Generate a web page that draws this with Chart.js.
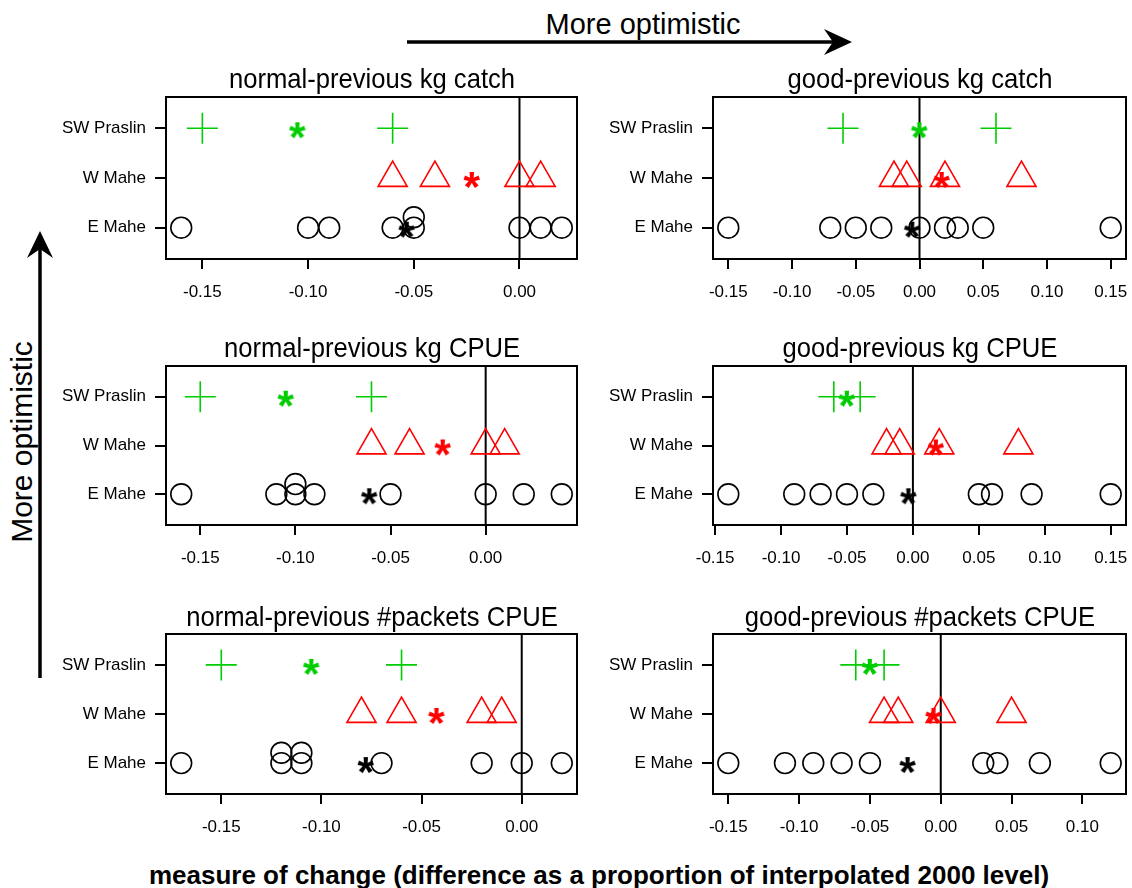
<!DOCTYPE html>
<html>
<head>
<meta charset="utf-8">
<script src="https://cdn.jsdelivr.net/npm/chart.js@4.4.0/dist/chart.umd.min.js"></script>
<style>
  body { margin: 0; background: #fff; font-family: "Liberation Sans", Arial, sans-serif; }
  #page { position: relative; width: 1132px; height: 888px; overflow: hidden; }
  .panel { position: absolute; }
  .txt { position: absolute; white-space: nowrap; color: #000; }
  .title { font-size: 28px; line-height: 28px; transform: translateX(-50%) scaleX(0.915); }
  #topLabel { left: 643px; top: 10px; font-size: 29px; line-height: 29px; transform: translateX(-50%); }
  #sideLabel { left: 22px; top: 442px; font-size: 30px; line-height: 30px; transform: translate(-50%, -50%) rotate(-90deg); }
  #xLabel { left: 599px; top: 862px; font-size: 26px; line-height: 26px; font-weight: bold; transform: translateX(-50%); }
  svg { position: absolute; left: 0; top: 0; }
</style>
</head>
<body>
<div id="page">
  <svg width="1132" height="888">
    <line x1="407" y1="42" x2="836" y2="42" stroke="#000" stroke-width="3.5"/>
    <polygon points="852,42 824,29 833,42 824,55" fill="#000"/>
    <line x1="40" y1="678" x2="40" y2="246" stroke="#000" stroke-width="3.5"/>
    <polygon points="40,231 27,258 40,249 53,258" fill="#000"/>
  </svg>
  <div class="txt" id="topLabel">More optimistic</div>
  <div class="txt" id="sideLabel">More optimistic</div>
  <div class="txt" id="xLabel">measure of change (difference as a proportion of interpolated 2000 level)</div>
</div>
<script>
// Panel titles, in reading order (left to right, top to bottom)
const panelTitles = [
    'normal-previous kg catch', 'good-previous kg catch',
    'normal-previous kg CPUE', 'good-previous kg CPUE',
    'normal-previous #packets CPUE', 'good-previous #packets CPUE'
];

// Row labels, bottom to top
const siteNames = ['E Mahe', 'W Mahe', 'SW Praslin'];

// Values per site for each panel
const swPraslin = [
    [-0.15, -0.06],
    [-0.06, 0.06],
    [-0.15, -0.06],
    [-0.06, -0.04],
    [-0.15, -0.06],
    [-0.06, -0.04]
];
const wMahe = [
    [-0.06, -0.04, 0.00, 0.01],
    [-0.02, -0.01, 0.02, 0.08],
    [-0.06, -0.04, 0.00, 0.01],
    [-0.02, -0.01, 0.02, 0.08],
    [-0.08, -0.06, -0.02, -0.01],
    [-0.04, -0.03, 0.00, 0.05]
];
const eMahe = [
    [-0.16, -0.10, -0.09, -0.06, -0.05, -0.05, 0.00, 0.01, 0.02],
    [-0.15, -0.07, -0.05, -0.03, 0.00, 0.02, 0.03, 0.05, 0.15],
    [-0.16, -0.11, -0.10, -0.10, -0.09, -0.05, 0.00, 0.02, 0.04],
    [-0.14, -0.09, -0.07, -0.05, -0.03, 0.05, 0.06, 0.09, 0.15],
    [-0.17, -0.12, -0.12, -0.11, -0.11, -0.07, -0.02, 0.00, 0.02],
    [-0.15, -0.11, -0.09, -0.07, -0.05, 0.03, 0.04, 0.07, 0.12]
];

// Means (asterisks)
const swMean = [-0.105, 0.000, -0.105, -0.050, -0.105, -0.050];
const wMean = [-0.0225, 0.0175, -0.0225, 0.0175, -0.0425, -0.005];
const eMean = [-0.0533, -0.0056, -0.0611, -0.0033, -0.0778, -0.0233];

// Tick labels on the x axes
const xTicks = [
    [-0.15, -0.10, -0.05, 0.00],
    [-0.15, -0.10, -0.05, 0.00, 0.05, 0.10, 0.15],
    [-0.15, -0.10, -0.05, 0.00],
    [-0.15, -0.10, -0.05, 0.00, 0.05, 0.10, 0.15],
    [-0.15, -0.10, -0.05, 0.00],
    [-0.15, -0.10, -0.05, 0.00, 0.05, 0.10]
];

const GREEN = '#00CD00';
const RED = '#FF0000';
const BLACK = '#000000';
const FONT = '"Liberation Sans", Arial, sans-serif';
const Y_MIN = 0.37, Y_MAX = 3.63;

// page geometry of the plot boxes
const boxTop = [97, 365.7, 634.3];
const boxBottom = [259, 525, 794.5];
const colGeom = [
    { left: 50, width: 535, yWidth: 116, padRight: 8, center: 371.5 },
    { left: 596, width: 536, yWidth: 117, padRight: 6, center: 919.5 }
];

/**
 * Asterisk marker drawn from a bold text glyph
 */
function makeAsterisk(color) {
    const c = document.createElement('canvas');
    c.width = 26;
    c.height = 26;
    const g = c.getContext('2d');
    g.font = 'bold 40px ' + FONT;
    let m = g.measureText('*');
    const w0 = m.actualBoundingBoxLeft + m.actualBoundingBoxRight;
    const size = 40 * 17 / w0;
    g.font = 'bold ' + size + 'px ' + FONT;
    m = g.measureText('*');
    const w = m.actualBoundingBoxLeft + m.actualBoundingBoxRight;
    const h = m.actualBoundingBoxAscent + m.actualBoundingBoxDescent;
    g.fillStyle = color;
    g.fillText('*', 13 - w / 2 + m.actualBoundingBoxLeft, 13 + h / 2 - m.actualBoundingBoxDescent + 2);
    return c;
}

const starGreen = makeAsterisk(GREEN);
const starRed = makeAsterisk(RED);
const starBlack = makeAsterisk(BLACK);

// stack repeated values upward within a row
function stackPoints(vals, row) {
    const seen = {};
    return vals.map(v => {
        const k = seen[v] || 0;
        seen[v] = k + 1;
        return { x: v, y: row + k * 0.21 };
    });
}

const boxPlugin = {
    id: 'plotBox',
    afterDraw(chart) {
        const a = chart.chartArea;
        const ctx = chart.ctx;
        ctx.save();
        ctx.strokeStyle = BLACK;
        ctx.lineWidth = 2;
        ctx.strokeRect(a.left, a.top, a.right - a.left, a.bottom - a.top);
        ctx.restore();
    }
};

function pointSet(data, style, color, radius, width) {
    return {
        data: data,
        pointStyle: style,
        pointRadius: radius,
        pointBorderColor: color,
        pointBackgroundColor: 'rgba(0,0,0,0)',
        pointBorderWidth: width,
        borderColor: color,
        showLine: false
    };
}

function buildPanel(i) {
    const row = Math.floor(i / 2);
    const col = colGeom[i % 2];
    const top = boxTop[row] - 4;
    const height = 4 + (boxBottom[row] - boxTop[row]) + 50;

    const wrap = document.createElement('div');
    wrap.className = 'panel';
    wrap.style.left = col.left + 'px';
    wrap.style.top = top + 'px';
    const canvas = document.createElement('canvas');
    canvas.width = col.width;
    canvas.height = height;
    canvas.style.width = col.width + 'px';
    canvas.style.height = height + 'px';
    wrap.appendChild(canvas);
    document.getElementById('page').appendChild(wrap);

    const title = document.createElement('div');
    title.className = 'txt title';
    title.textContent = panelTitles[i];
    title.style.left = col.center + 'px';
    title.style.top = (boxTop[row] - 31.7) + 'px';
    document.getElementById('page').appendChild(title);

    // R style range: data range widened by 4%
    const all = swPraslin[i].concat(wMahe[i], eMahe[i]);
    const lo = Math.min.apply(null, all);
    const hi = Math.max.apply(null, all);
    const ext = (hi - lo) * 0.04;

    const datasets = [
        pointSet([{ x: swMean[i], y: 3 }], starGreen, GREEN, 8, 0),
        pointSet([{ x: wMean[i], y: 2 }], starRed, RED, 8, 0),
        pointSet([{ x: eMean[i], y: 1 }], starBlack, BLACK, 8, 0),
        pointSet(stackPoints(swPraslin[i], 3), 'cross', GREEN, 15.5, 1.6),
        pointSet(stackPoints(wMahe[i], 2), 'triangle', RED, 16.8, 1.6),
        pointSet(stackPoints(eMahe[i], 1), 'circle', BLACK, 10.4, 1.6),
        {
            data: [{ x: 0, y: Y_MIN }, { x: 0, y: Y_MAX }],
            showLine: true,
            borderColor: BLACK,
            borderWidth: 2,
            pointRadius: 0
        }
    ];

    new Chart(canvas.getContext('2d'), {
        type: 'scatter',
        data: { datasets: datasets },
        options: {
            responsive: false,
            animation: false,
            devicePixelRatio: 1,
            layout: {
                autoPadding: false,
                padding: { top: 4, right: col.padRight, left: 0, bottom: 0 }
            },
            plugins: { legend: { display: false }, tooltip: { enabled: false } },
            scales: {
                x: {
                    type: 'linear',
                    min: lo - ext,
                    max: hi + ext,
                    afterBuildTicks: s => { s.ticks = xTicks[i].map(v => ({ value: v })); },
                    afterFit: s => {
                        s.height = 50;
                        s.paddingLeft = 0;
                        s.paddingRight = 0;
                    },
                    grid: { drawOnChartArea: false, drawTicks: true, tickLength: 10, color: BLACK, lineWidth: 2 },
                    border: { display: true, color: BLACK, width: 2 },
                    ticks: {
                        color: BLACK,
                        padding: 13,
                        maxRotation: 0,
                        autoSkip: false,
                        font: { family: FONT, size: 17 },
                        callback: v => v.toFixed(2)
                    }
                },
                y: {
                    type: 'linear',
                    min: Y_MIN,
                    max: Y_MAX,
                    afterBuildTicks: s => { s.ticks = [1, 2, 3].map(v => ({ value: v })); },
                    afterFit: s => {
                        s.width = col.yWidth;
                        s.paddingTop = 0;
                        s.paddingBottom = 0;
                    },
                    grid: { drawOnChartArea: false, drawTicks: true, tickLength: 11, color: BLACK, lineWidth: 2 },
                    border: { display: true, color: BLACK, width: 2 },
                    ticks: {
                        color: BLACK,
                        padding: 9,
                        autoSkip: false,
                        font: { family: FONT, size: 17 },
                        callback: v => siteNames[v - 1]
                    }
                }
            }
        },
        plugins: [boxPlugin]
    });
}

document.addEventListener('DOMContentLoaded', function() {
    for (let i = 0; i < panelTitles.length; i++) {
        buildPanel(i);
    }
});
</script>
</body>
</html>
